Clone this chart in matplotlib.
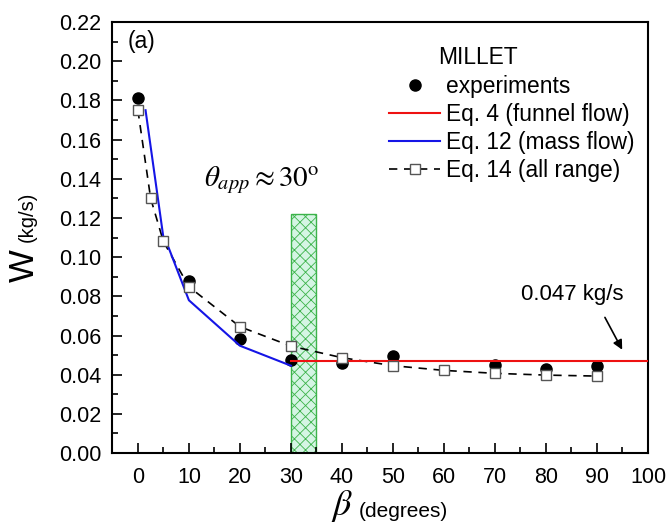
import matplotlib
matplotlib.use("Agg")
import matplotlib.pyplot as plt
from matplotlib.ticker import MultipleLocator, FormatStrFormatter
from matplotlib.lines import Line2D
import numpy as np

plt.rcParams['font.family'] = ['Liberation Sans', 'DejaVu Sans']
plt.rcParams['mathtext.fontset'] = 'stix'
plt.rcParams['hatch.color'] = '#3cb34a'
plt.rcParams['hatch.linewidth'] = 0.6

# data
beta_exp = [0, 10, 20, 30, 40, 50, 70, 80, 90]
W_exp = [0.1814, 0.088, 0.0584, 0.0473, 0.0461, 0.0494, 0.0449, 0.0427, 0.0446]

beta_eq14 = [0, 2.5, 5, 10, 20, 30, 40, 50, 60, 70, 80, 90]
W_eq14 = [0.175, 0.130, 0.108, 0.0849, 0.0645, 0.0546, 0.0487, 0.0446, 0.0422, 0.0407, 0.0398, 0.0393]

beta_eq12 = [1.5, 5, 6, 10, 20, 30]
W_eq12 = [0.175, 0.110, 0.105, 0.078, 0.0548, 0.0446]

beta_eq4 = [30, 100]
W_eq4 = [0.047, 0.047]

band_beta = [30, 35]
band_top = 0.122

fig = plt.figure(figsize=(6.69, 5.25), dpi=100)
ax = fig.add_axes([0.168, 0.137, 0.8006, 0.821])

ax.bar(band_beta[0], band_top, width=band_beta[1] - band_beta[0], align='edge',
       facecolor='#d5f5e4', edgecolor='#3cb34a', hatch='xxx', linewidth=1.0, zorder=1)

dash = (0, (5, 4))
sq = dict(marker='s', markersize=7.5, markerfacecolor='white', markeredgecolor='#555555',
          markeredgewidth=1.0)
ax.plot(beta_eq14, W_eq14, linestyle=dash, color='black', lw=1.2, zorder=2)
ax.plot(beta_exp, W_exp, 'o', color='black', markersize=8, zorder=3)
ax.plot(beta_eq12, W_eq12, color='#1515e6', lw=1.5, zorder=4)
ax.plot(beta_eq4, W_eq4, color='#ee1111', lw=1.5, zorder=4)
ax.plot(beta_eq14, W_eq14, linestyle='none', zorder=5, **sq)

ax.set_xlim(-5, 100)
ax.set_ylim(0, 0.22)
ax.xaxis.set_major_locator(MultipleLocator(10))
ax.xaxis.set_minor_locator(MultipleLocator(5))
ax.yaxis.set_major_locator(MultipleLocator(0.02))
ax.yaxis.set_minor_locator(MultipleLocator(0.01))
ax.yaxis.set_major_formatter(FormatStrFormatter('%.2f'))
ax.tick_params(which='both', direction='in', top=False, right=False, labelsize=15.5, width=1.2)
ax.tick_params(which='major', length=7)
ax.tick_params(axis='x', which='major', pad=10)
ax.tick_params(axis='y', which='major', pad=8)
ax.tick_params(which='minor', length=4)
for s in ax.spines.values():
    s.set_linewidth(1.5)

ax.text(-2.0, 0.216, '(a)', fontsize=16.5, va='top', ha='left')
ax.text(12.9, 0.1394, r'$\theta_{app}\approx 30^{\mathrm{o}}$', fontsize=21, va='center', ha='left')
ax.text(85.1, 0.0807, '0.047 kg/s', fontsize=16, ha='center', va='center')
ax.annotate('', xy=(95.2, 0.0515), xytext=(91.3, 0.0705),
            arrowprops=dict(arrowstyle='-|>', color='black', lw=1.2, mutation_scale=14))

# axis labels
fig.text(0.528, 0.002, r'$\beta$', fontsize=26, ha='right', va='bottom')
fig.text(0.536, 0.008, '(degrees)', fontsize=15, ha='left', va='bottom')
fig.text(0.037, 0.495, 'W', fontsize=25, rotation=90, ha='center', va='center')
fig.text(0.040, 0.539, '(kg/s)', fontsize=14.5, rotation=90, ha='center', va='bottom')

# legend
fig.text(477.7 / 669, 1 - 58 / 525, 'MILLET', fontsize=16.4, ha='center', va='center')
handles = [
    Line2D([], [], linestyle='none', marker='o', color='black', markersize=8),
    Line2D([], [], color='#ee1111', lw=1.5),
    Line2D([], [], color='#1515e6', lw=1.5),
    Line2D([], [], linestyle=dash, color='black', lw=1.2, **sq),
]
labels = ['experiments', 'Eq. 4 (funnel flow)', 'Eq. 12 (mass flow)', 'Eq. 14 (all range)']
leg = ax.legend(handles, labels, loc='upper right', bbox_to_anchor=(0.975, 0.878),
                frameon=False, fontsize=16.4, handlelength=2.24,
                handletextpad=0.26, labelspacing=0.23, borderaxespad=0, borderpad=0)

fig.savefig('out.png', dpi=100)
